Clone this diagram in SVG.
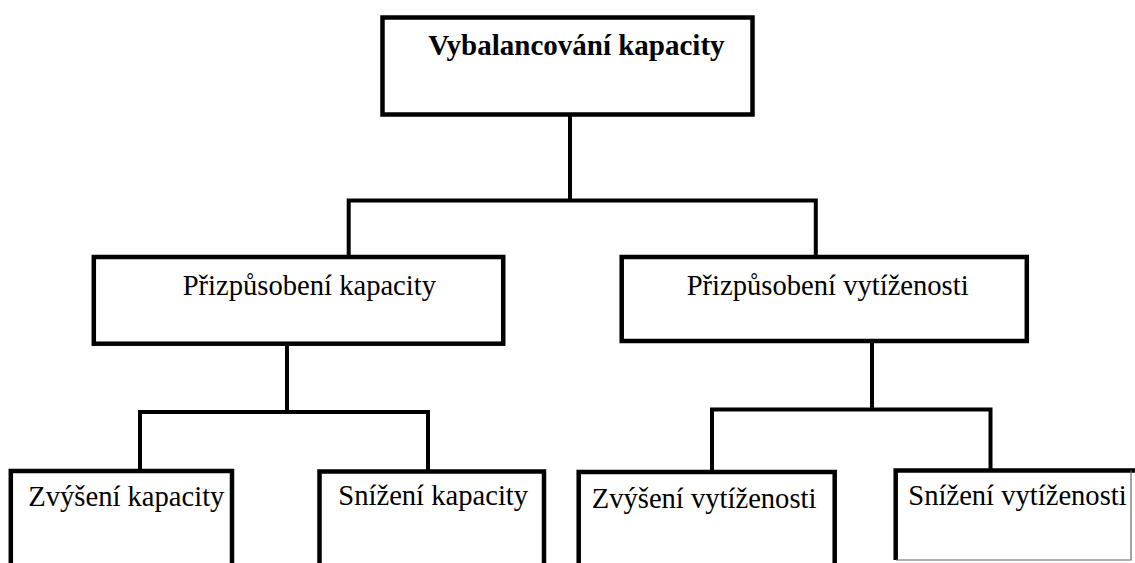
<svg xmlns="http://www.w3.org/2000/svg" width="1135" height="563" viewBox="0 0 1135 563">
<style>
.box{fill:#fff;stroke:#000;stroke-width:4.5;stroke-linejoin:miter}
.con{fill:none;stroke:#000;stroke-width:4;stroke-linejoin:miter;stroke-linecap:square}
.t{font-family:"Liberation Serif","Times New Roman",serif;font-size:28.6px;fill:#000}
.tb{font-family:"Liberation Serif","Times New Roman",serif;font-size:29px;font-weight:bold;fill:#000}
</style>
<rect width="1135" height="563" fill="#fff"/>
<g id="connectors">
<path class="con" d="M570,116 V200.5 M348.7,255 V200.5 H815.8 V255"/>
<path class="con" d="M287,346 V412 M140,469 V412 H428 V469"/>
<path class="con" d="M872,343 V409.5 M712,469 V409.5 H990.5 V469"/>
</g>
<g id="n-top">
<rect class="box" x="382.5" y="17.5" width="370" height="97"/>
<text class="tb" x="428.3" y="55">Vybalancování kapacity</text>
</g>
<g id="n-kap">
<rect class="box" x="93.8" y="257" width="409.4" height="86.7"/>
<text class="t" x="182.7" y="295">Přizpůsobení kapacity</text>
</g>
<g id="n-vyt">
<rect class="box" x="621.7" y="257" width="405.1" height="84"/>
<text class="t" x="686.7" y="295">Přizpůsobení vytíženosti</text>
</g>
<g id="n-zk">
<rect class="box" x="10.8" y="471" width="221.2" height="110"/>
<text class="t" x="28.3" y="505.5" font-size="28.1">Zvýšení kapacity</text>
</g>
<g id="n-sk">
<rect class="box" x="319.5" y="471.5" width="224.5" height="110"/>
<text class="t" x="338.3" y="504.5" font-size="28.4">Snížení kapacity</text>
</g>
<g id="n-zv">
<rect class="box" x="578.7" y="472" width="256" height="110"/>
<text class="t" x="591.7" y="508" font-size="28.8">Zvýšení vytíženosti</text>
</g>
<g id="n-sv">
<path d="M1135,470.5 H895.7 V560" fill="none" stroke="#000" stroke-width="4.5"/>
<path d="M896,560 H1131 V470.5" fill="none" stroke="#666" stroke-width="1.2"/>
<text class="t" x="908.3" y="505" font-size="28.6">Snížení vytíženosti</text>
</g>
</svg>
